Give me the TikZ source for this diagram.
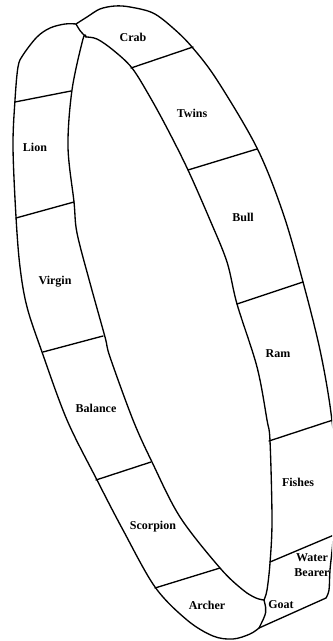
\documentclass[tikz,border=0pt]{standalone}
\usepackage{fontspec}
\setmainfont{Liberation Serif}
\begin{document}
\begin{tikzpicture}[x=0.75pt,y=-0.75pt,
  band/.style={line width=1pt, line join=round, line cap=round},
  lbl/.style={font=\bfseries\fontsize{9}{11}\selectfont, inner sep=0pt, align=center}]
\useasboundingbox (0,0) rectangle (332,641);
\clip (0,0) rectangle (332,641);
\coordinate (T) at (76,24);
\coordinate (I) at (86,37);
\coordinate (G) at (264,600);
\coordinate (B) at (259,628);
\coordinate (W) at (326,598);
% outer left edge
\draw[band] plot[smooth,tension=0.55] coordinates {(76,24) (65,24) (50,28) (37,37) (23,55) (18,67) (15,100) (13,147) (16,217) (20,267) (27,307) (42,352) (67,420) (97,480) (123,530) (155,587) (187,620) (213,636) (233,639) (250,634) (259,628)};
% outer right edge
\draw[band] plot[smooth,tension=0.55] coordinates {(76,24) (87,17) (100,9) (115,6) (130,7) (153,13) (173,28) (192,47) (217,80) (257,148) (283,213) (303,282) (320,350) (331,413) (337,480) (333,540) (330,570) (329,590) (326,598)};
\draw[band] (W) -- (B);
% junction at top
\draw[band] (T) .. controls (80,31) .. (I);
% inner right edge
\draw[band] plot[smooth,tension=0.55] coordinates {(86,37) (97,39) (113,50) (132,68) (150,97) (168,130) (188,170) (210,220) (227,262) (237,304) (257,367) (267,420) (270,441) (272,520) (270,563) (267,590) (264,600)};
% inner left edge
\draw[band] plot[smooth,tension=0.55] coordinates {(86,37) (83,39) (72,90) (68,147) (74,202) (77,233) (90,283) (105,337) (110,357) (133,420) (152,462) (180,517) (220,568) (243,590) (256,598) (264,600)};
% goat left edge
\draw[band] (G) .. controls (267,612) .. (B);
% dividers
\draw[band] (131,68) -- (193,47);
\draw[band] (188,170) -- (257,149);
\draw[band] (237,304) -- (303,282);
\draw[band] (269,441) -- (336,419);
\draw[band] (270,562) -- (334,535);
\draw[band] (15,102) -- (71,91);
\draw[band] (16,218) -- (74,202);
\draw[band] (43,352) -- (103,336);
\draw[band] (96,480) -- (151,462);
\draw[band] (155,588) -- (220,568);
% labels
\node[lbl] (crab) at (133,37) {Crab};
\node[lbl] (twins) at (192,113) {Twins};
\node[lbl] (bull) at (243,217) {Bull};
\node[lbl] (ram) at (278,354) {Ram};
\node[lbl] (fishes) at (298,482) {Fishes};
\node[lbl] (water) at (312,565) {Water\\Bearer};
\node[lbl] (goat) at (281,605) {Goat};
\node[lbl] (archer) at (207,605) {Archer};
\node[lbl] (scorpion) at (153,527) {Scorpion};
\node[lbl] (balance) at (96,408) {Balance};
\node[lbl] (virgin) at (55,282) {Virgin};
\node[lbl] (lion) at (35,147) {Lion};
\end{tikzpicture}
\end{document}
